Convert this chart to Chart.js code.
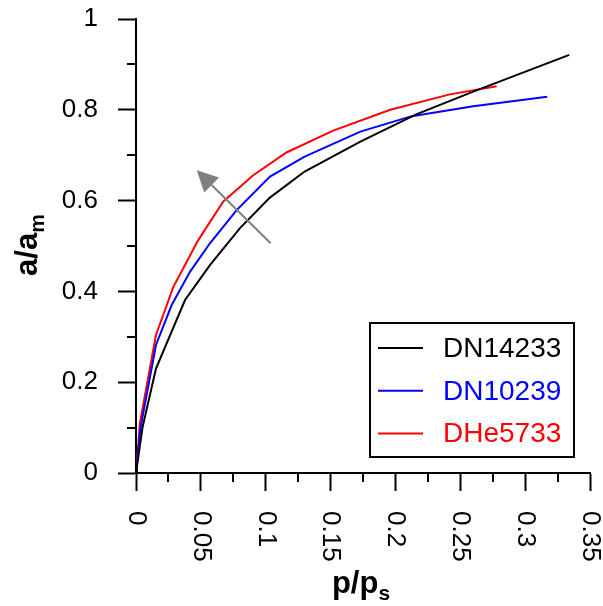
<!DOCTYPE html>
<html>
<head>
<meta charset="utf-8">
<script src="https://cdn.jsdelivr.net/npm/chart.js@4.4.1/dist/chart.umd.min.js"></script>
<style>
  html, body { margin: 0; padding: 0; background: #fff; }
  #wrap { width: 603px; height: 606px; }
</style>
</head>
<body>
<div id="wrap"><canvas id="chart"></canvas></div>
<script>
// data (x = p/ps, y = a/am)
const seriesNames = ['DN14233', 'DN10239', 'DHe5733'];
const seriesColors = ['#000000', '#0000ff', '#ff0000'];

const dn14233X = [0, 0.0005, 0.005, 0.0154, 0.0378, 0.057, 0.080, 0.103, 0.130, 0.173, 0.216, 0.260, 0.334];
const dn14233Y = [0, 0.010, 0.100, 0.230, 0.381, 0.458, 0.539, 0.606, 0.664, 0.730, 0.790, 0.840, 0.921];

const dn10239X = [0, 0.0005, 0.0035, 0.0154, 0.0275, 0.0416, 0.057, 0.0776, 0.1033, 0.130, 0.173, 0.2126, 0.260, 0.317];
const dn10239Y = [0, 0.015, 0.100, 0.282, 0.370, 0.443, 0.506, 0.579, 0.653, 0.697, 0.752, 0.786, 0.808, 0.829];

const dhe5733X = [0, 0.0005, 0.003, 0.0154, 0.0288, 0.048, 0.0673, 0.0904, 0.116, 0.152, 0.196, 0.242, 0.278];
const dhe5733Y = [0, 0.015, 0.110, 0.304, 0.410, 0.513, 0.598, 0.656, 0.706, 0.754, 0.800, 0.834, 0.852];

const xTickLabels = ['0', '0.05', '0.1', '0.15', '0.2', '0.25', '0.3', '0.35'];
const yTickLabels = ['0', '0.2', '0.4', '0.6', '0.8', '1'];
const xMinorTicks = [0.025, 0.075, 0.125, 0.175, 0.225, 0.275, 0.325];
const yMinorTicks = [0.1, 0.3, 0.5, 0.7, 0.9];

// arrow, in data units
const arrowFrom = [0.1038, 0.506];
const arrowTo = [0.0468, 0.667];

const FONT = '"Liberation Sans", Arial, sans-serif';

function toPoints(xs, ys) {
    return xs.map((x, i) => ({ x: x, y: ys[i] }));
}

const extrasPlugin = {
    id: 'extras',
    afterDraw(chart) {
        const ctx = chart.ctx;
        const xs = chart.scales.x;
        const ys = chart.scales.y;
        const area = chart.chartArea;

        ctx.save();
        // minor ticks
        ctx.strokeStyle = '#000';
        ctx.lineWidth = 2;
        ctx.beginPath();
        xMinorTicks.forEach(v => {
            const px = Math.round(xs.getPixelForValue(v));
            ctx.moveTo(px, area.bottom);
            ctx.lineTo(px, area.bottom + 9);
        });
        yMinorTicks.forEach(v => {
            const py = Math.round(ys.getPixelForValue(v));
            ctx.moveTo(area.left - 9, py);
            ctx.lineTo(area.left, py);
        });
        ctx.stroke();

        // x tick labels, turned clockwise
        ctx.fillStyle = '#000';
        ctx.font = '26px ' + FONT;
        ctx.textAlign = 'left';
        ctx.textBaseline = 'middle';
        xs.ticks.forEach((t, i) => {
            const px = xs.getPixelForValue(t.value);
            ctx.save();
            ctx.translate(px, area.bottom + 38);
            ctx.rotate(Math.PI / 2);
            ctx.fillText(xTickLabels[i], 0, 0);
            ctx.restore();
        });

        // axis titles with subscripts
        ctx.textBaseline = 'alphabetic';
        const drawTitle = (main, sub) => {
            ctx.font = 'bold 31px ' + FONT;
            const w1 = ctx.measureText(main).width;
            ctx.font = 'bold 21px ' + FONT;
            const w2 = ctx.measureText(sub).width;
            const start = -(w1 + w2) / 2;
            ctx.font = 'bold 31px ' + FONT;
            ctx.fillText(main, start, 0);
            ctx.font = 'bold 21px ' + FONT;
            ctx.fillText(sub, start + w1, 7);
        };
        ctx.save();
        ctx.translate((area.left + area.right) / 2 - 2, 593);
        drawTitle('p/p', 's');
        ctx.restore();
        ctx.save();
        ctx.translate(37, (area.top + area.bottom) / 2 - 1);
        ctx.rotate(-Math.PI / 2);
        drawTitle('a/a', 'm');
        ctx.restore();

        // arrow
        const x1 = xs.getPixelForValue(arrowFrom[0]);
        const y1 = ys.getPixelForValue(arrowFrom[1]);
        const x2 = xs.getPixelForValue(arrowTo[0]);
        const y2 = ys.getPixelForValue(arrowTo[1]);
        const ang = Math.atan2(y2 - y1, x2 - x1);
        const headLen = 21, headHalf = 10.5;
        const bx = x2 - headLen * Math.cos(ang);
        const by = y2 - headLen * Math.sin(ang);
        ctx.strokeStyle = '#808080';
        ctx.fillStyle = '#808080';
        ctx.lineWidth = 2;
        ctx.beginPath();
        ctx.moveTo(x1, y1);
        ctx.lineTo(bx, by);
        ctx.stroke();
        ctx.beginPath();
        ctx.moveTo(x2, y2);
        ctx.lineTo(bx + headHalf * Math.sin(ang), by - headHalf * Math.cos(ang));
        ctx.lineTo(bx - headHalf * Math.sin(ang), by + headHalf * Math.cos(ang));
        ctx.closePath();
        ctx.fill();

        // legend box
        const lx = 370, ly = 323, lw = 204, lh = 134;
        ctx.fillStyle = '#fff';
        ctx.fillRect(lx, ly, lw, lh);
        ctx.strokeStyle = '#000';
        ctx.lineWidth = 2;
        ctx.strokeRect(lx, ly, lw, lh);
        ctx.font = '28px ' + FONT;
        ctx.textBaseline = 'middle';
        ctx.textAlign = 'left';
        chart.data.datasets.forEach((ds, i) => {
            const rowY = ly + 25 + i * 42.8;
            ctx.strokeStyle = ds.borderColor;
            ctx.beginPath();
            ctx.moveTo(lx + 8, rowY);
            ctx.lineTo(lx + 53, rowY);
            ctx.stroke();
            ctx.fillStyle = ds.borderColor;
            ctx.fillText(ds.label, lx + 73, rowY + 1);
        });
        ctx.restore();
    }
};

new Chart(document.getElementById('chart'), {
    type: 'line',
    data: {
        datasets: [
            { label: seriesNames[0], data: toPoints(dn14233X, dn14233Y), borderColor: seriesColors[0] },
            { label: seriesNames[1], data: toPoints(dn10239X, dn10239Y), borderColor: seriesColors[1] },
            { label: seriesNames[2], data: toPoints(dhe5733X, dhe5733Y), borderColor: seriesColors[2] }
        ]
    },
    options: {
        responsive: true,
        maintainAspectRatio: false,
        animation: false,
        layout: { padding: { top: 19, right: 13, left: 0, bottom: 0 } },
        elements: {
            line: { borderWidth: 2, tension: 0, fill: false },
            point: { radius: 0 }
        },
        plugins: {
            legend: { display: false },
            tooltip: { enabled: false }
        },
        scales: {
            x: {
                type: 'linear',
                min: 0,
                max: 0.35,
                afterFit: (scale) => { scale.height = 133; },
                ticks: { stepSize: 0.05, display: false },
                grid: { drawOnChartArea: false, drawTicks: true, tickLength: 18, tickWidth: 2, tickColor: '#000' },
                border: { display: true, color: '#000', width: 2 }
            },
            y: {
                type: 'linear',
                min: 0,
                max: 1,
                afterFit: (scale) => {
                    scale.width = 136;
                    scale.paddingTop = 0;
                    scale.paddingBottom = 0;
                },
                ticks: {
                    stepSize: 0.2,
                    padding: 20,
                    color: '#000',
                    font: { family: FONT, size: 26 },
                    callback: (v, i) => yTickLabels[i]
                },
                grid: { drawOnChartArea: false, drawTicks: true, tickLength: 18, tickWidth: 2, tickColor: '#000' },
                border: { display: true, color: '#000', width: 2 }
            }
        }
    },
    plugins: [extrasPlugin]
});
</script>
</body>
</html>
